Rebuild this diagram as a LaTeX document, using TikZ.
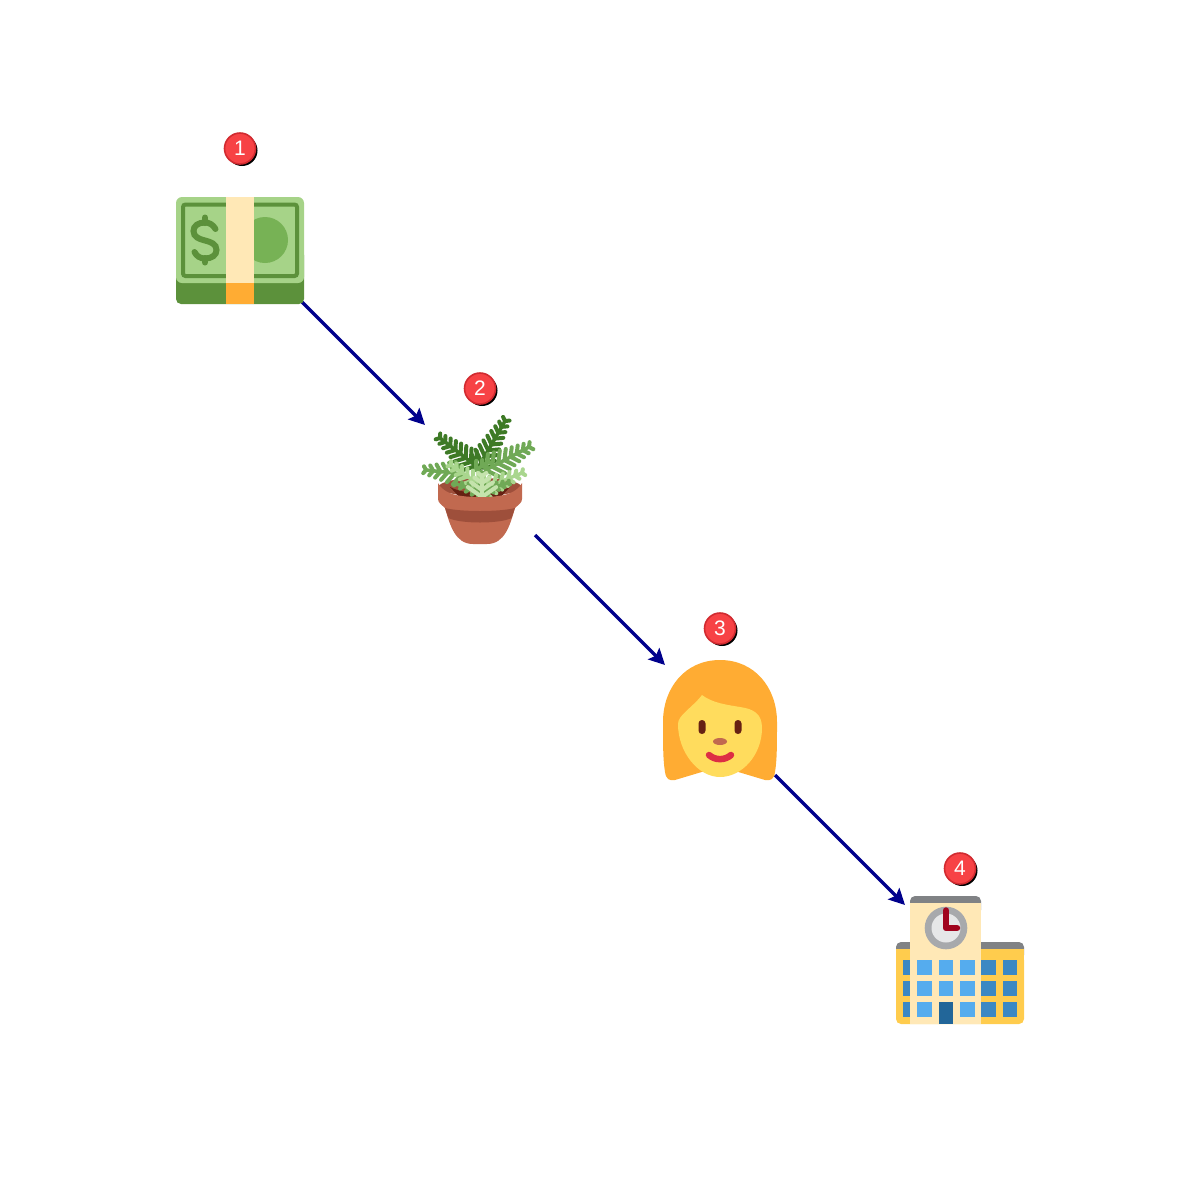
\documentclass[tikz,border=0pt]{standalone}
\usepackage{fontspec}
\setmainfont{Liberation Sans}
\usetikzlibrary{arrows.meta,shadows}
\definecolor{billdark}{HTML}{5C913B}
\definecolor{billlight}{HTML}{A6D388}
\definecolor{billmid}{HTML}{77B255}
\definecolor{cream}{HTML}{FFE8B6}
\definecolor{amber}{HTML}{FFAC33}
\definecolor{potc}{HTML}{C1694F}
\definecolor{potd}{HTML}{9E4F3B}
\definecolor{soil}{HTML}{662113}
\definecolor{skin}{HTML}{FFDC5D}
\definecolor{lipc}{HTML}{DD2E44}
\definecolor{wall}{HTML}{FFCC4D}
\definecolor{roofc}{HTML}{808285}
\definecolor{winl}{HTML}{55ACEE}
\definecolor{wind}{HTML}{3B88C3}
\definecolor{doorc}{HTML}{226699}
\definecolor{clockr}{HTML}{A7A9AC}
\definecolor{clockf}{HTML}{E6E7E8}
\definecolor{handc}{HTML}{A0041E}
\definecolor{badger}{HTML}{F74245}
\definecolor{badgeb}{HTML}{D12B30}
\definecolor{fernA}{HTML}{3E7A26}
\definecolor{fernB}{HTML}{70A956}
\definecolor{fernC}{HTML}{A9D68E}
\definecolor{fernD}{HTML}{C4E3AC}
\tikzset{
  x=1pt,y=-1pt,
  spot/.style={minimum size=#1,inner sep=0pt,outer sep=0pt,draw=none,fill=none},
  badge/.style={circle,minimum size=31pt,inner sep=0pt,fill=badger,draw=badgeb,line width=1.6pt,text=white,font=\fontsize{21}{21}\selectfont,
     general shadow={fill=black,shadow xshift=2pt,shadow yshift=-2pt}},
  flow/.style={draw=blue!55!black,line width=3.4pt,-{Stealth[length=16pt,width=16pt,inset=3pt]}},
  win/.style={fill=#1,draw=none},
}
% frond: x0 y0 x1 y1 colour leaflet-length; leaflets about 6.5 apart
\newcommand{\frond}[6]{%
  \pgfmathsetmacro\fang{atan2(#4-#2,#3-#1)}
  \pgfmathtruncatemacro\fn{max(2,veclen(#3-#1,#4-#2)/6.5)}
  \draw[color=#5,line width=3.5pt,line cap=round] (#1,#2)--(#3,#4);
  \foreach \i in {0,...,\fn}{%
    \pgfmathsetmacro\t{\i/\fn}
    \pgfmathsetmacro\fx{#1+\t*(#3-#1)}
    \pgfmathsetmacro\fy{#2+\t*(#4-#2)}
    \pgfmathsetmacro\fl{#6*(1.15-0.8*\t)}
    \pgfmathsetmacro\fa{\fang+55}
    \pgfmathsetmacro\fb{\fang-55}
    \draw[color=#5,line width=4pt,line cap=round] (\fx,\fy)--++(\fa:\fl);
    \draw[color=#5,line width=4pt,line cap=round] (\fx,\fy)--++(\fb:\fl);
  }%
}
\begin{document}
\begin{tikzpicture}
\useasboundingbox (0,0) rectangle (1200,1200);
% anchors for the connectors
\node[spot=124pt] (money) at (240,240) {};
\node[spot=110pt] (plant) at (480,480) {};
\node[spot=110pt] (woman) at (720,720) {};
\node[spot=110pt] (school) at (960,960) {};
% connectors
\draw[flow] (money.south east) -- (plant.north west);
\draw[flow] (plant.south east) -- (woman.north west);
\draw[flow] (woman.south east) -- (school.north west);
% money
\fill[billdark,rounded corners=5pt] (176,250) rectangle (304,304);
\fill[billlight,rounded corners=6pt] (176,197) rectangle (304,283);
\draw[billdark,line width=4pt,rounded corners=2.5pt] (183,204.5) rectangle (297,276);
\fill[billmid] (265,240) circle (23);
\fill[cream] (226,197) rectangle (254,283);
\fill[amber] (226,283) rectangle (254,304);
\draw[billdark,line width=6pt,line cap=round]
  (215.5,229) .. controls (213,224.5) and (209,222.5) .. (205,222.5)
  .. controls (198,222.5) and (193.5,226) .. (193.5,231)
  .. controls (193.5,237) and (199,239) .. (205,240.5)
  .. controls (211,242) and (216.5,244) .. (216.5,250)
  .. controls (216.5,255) and (212,258.5) .. (205,258.5)
  .. controls (200,258.5) and (196.5,256) .. (194.5,252);
\draw[billdark,line width=6pt,line cap=round] (205,217.5)--(205,223) (205,258)--(205,262.5);
% plant: pot back and soil
\fill[potd] (480,487) ellipse (41.5 and 9);
\fill[soil] (450,487) .. controls (465,495) and (495,495) .. (510,487) -- (498,500) -- (462,500) -- cycle;
% ferns
\frond{478}{468}{505}{421}{fernA}{13}
\frond{476}{466}{440}{438}{fernA}{13}
\frond{486}{470}{529}{447}{fernB}{14}
\frond{462}{474}{426}{470}{fernB}{12}
\frond{476}{470}{488}{462}{fernB}{8}
\frond{484}{488}{451}{465}{fernC}{11}
\frond{480}{490}{522}{473}{fernC}{11}
\frond{484}{493}{456}{484}{fernB}{7}
\frond{476}{493}{508}{483}{fernB}{7}
\frond{482}{497}{482}{476}{fernD}{15}
% pot front
\fill[potc] (438,483) .. controls (442,491) and (452,495) .. (462,496)
  .. controls (472,497.5) and (490,497.5) .. (498,496)
  .. controls (508,495) and (518,491) .. (522,483)
  -- (522,499) .. controls (522,503) and (518,505) .. (515,508)
  .. controls (510,525) and (505,544) .. (487,544)
  -- (473,544) .. controls (455,544) and (450,525) .. (445,508)
  .. controls (442,505) and (438,503) .. (438,499) -- cycle;
\fill[potd] (445,508) .. controls (460,512) and (500,512) .. (515,508)
  -- (511.5,518) .. controls (500,524) and (460,524) .. (448.5,518) -- cycle;
% woman
\fill[amber] (720,660) .. controls (685,660) and (663,688) .. (663,722)
  .. controls (663,745) and (663,760) .. (665,772)
  .. controls (666,779) and (669,781) .. (675,780)
  -- (705,771) -- (735,771) -- (765,780)
  .. controls (771,781) and (774,779) .. (775,772)
  .. controls (777,760) and (777,745) .. (777,722)
  .. controls (777,688) and (755,660) .. (720,660) -- cycle;
\fill[skin] (678,724) .. controls (678,715) and (692,708) .. (702,695)
  .. controls (712,703) and (728,705) .. (740,707)
  .. controls (754,709) and (762,714) .. (762,728)
  .. controls (762,755) and (742,777) .. (720,777)
  .. controls (698,777) and (678,752) .. (678,724) -- cycle;
\fill[soil,rounded corners=3.4pt] (698.5,720) rectangle (705.5,734);
\fill[soil,rounded corners=3.4pt] (734.5,720) rectangle (741.5,734);
\fill[potc] (720,741.5) ellipse (7 and 3.5);
\draw[lipc,line width=6.5pt,line cap=round] (709,755) .. controls (715,760.5) and (725,760.5) .. (731,755);
% school
\fill[roofc,rounded corners=5pt] (896,942) rectangle (1024,960);
\fill[wall,rounded corners=5pt] (896,955) rectangle (1024,1024);
\fill[wall] (896,949) rectangle (1024,960);
\foreach \y in {960,981,1002}{
  \fill[win=wind] (903,\y) rectangle (910,\y+14.5);
  \fill[win=wind] (981,\y) rectangle (996,\y+14.5);
  \fill[win=wind] (1003,\y) rectangle (1017,\y+14.5);
}
\fill[roofc,rounded corners=5pt] (910,896) rectangle (981,915);
\fill[cream] (910,903) rectangle (981,1024);
\foreach \y in {960,981,1002}{
  \fill[win=winl] (917,\y) rectangle (932,\y+14.5);
  \fill[win=winl] (960,\y) rectangle (974.5,\y+14.5);
}
\foreach \y in {960,981}{\fill[win=winl] (939,\y) rectangle (953,\y+14.5);}
\fill[win=doorc] (939,1002) rectangle (953,1024);
\fill[clockr] (946,928) circle (21.3);
\fill[clockf] (946,928) circle (14.5);
\draw[handc,line width=6.5pt,line cap=round,line join=round] (946,910.5)--(946,928)--(957,928);
% badges
\node[badge] (n1) at (240,148.5) {1};
\node[badge] (n2) at (480,388.5) {2};
\node[badge] (n3) at (720,628.5) {3};
\node[badge] (n4) at (960,868.5) {4};
\end{tikzpicture}
\end{document}
